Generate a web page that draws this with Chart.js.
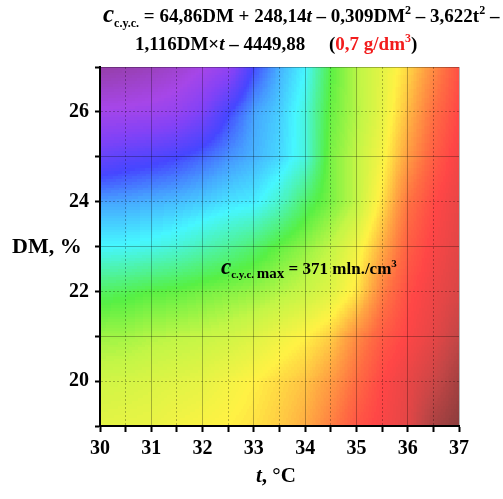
<!DOCTYPE html>
<html>
<head>
<meta charset="utf-8">
<script src="https://cdn.jsdelivr.net/npm/chart.js@4.4.1/dist/chart.umd.min.js"></script>
<style>
  html, body { margin: 0; padding: 0; background: #fff; }
  #wrap { width: 503px; height: 499px; position: relative; }
</style>
</head>
<body>
<div id="wrap"><canvas id="surfaceChart"></canvas></div>
<script>
// grid of the map
const tValues = [30, 30.5, 31, 31.5, 32, 32.5, 33, 33.5, 34, 34.5, 35, 35.5, 36, 36.5, 37];
const dmValues = [19, 20, 21, 22, 23, 24, 25, 26, 27];
// c c.y.c., mln./cm3 - one row per DM value (bottom row first), one value per t
const cRows = [
    [230, 229, 228, 226, 224, 222, 219, 214, 208, 197, 186, 180, 174, 157, 148],
    [236, 235, 233, 231, 229, 226, 222, 217, 212, 204, 193, 182, 176, 167, 155],
    [246, 245, 243, 241, 239, 236, 232, 227, 222, 214, 200, 188, 181, 175, 164],
    [262, 260, 258, 256, 253, 250, 247, 243, 238, 231, 219, 197, 184, 178, 171],
    [285, 284, 282, 279, 275, 270, 264, 256, 248, 240, 227, 208, 189, 180, 174],
    [300, 299, 297, 295, 292, 289, 287, 277, 263, 252, 240, 218, 195, 183, 176],
    [325, 322, 319, 315, 309, 303, 297, 291, 280, 252, 240, 225, 204, 189, 179],
    [348, 347, 345, 341, 332, 315, 300, 292, 280, 255, 243, 229, 211, 194, 182],
    [371, 368, 364, 358, 350, 340, 314, 297, 285, 258, 242, 230, 216, 200, 185]
];
const tTicks = [30, 31, 32, 33, 34, 35, 36, 37];
const dmTicks = [20, 22, 24, 26];

// rainbow palette (low = dark red, high = purple)
const levelStops = [148, 165, 182, 194, 207, 222, 240, 258, 285, 300, 315, 335, 350, 371];
const levelColors = ['#8a3c3c', '#c44646', '#ff4646', '#ff7042', '#ffa842', '#fff244', '#c2f646',
    '#56f044', '#46f6ff', '#46a2ff', '#4646ff', '#8442f6', '#a646e8', '#953fa8'];
const V_MIN = 140, V_MAX = 380;

const SERIF = '"Liberation Serif", "Times New Roman", serif';
const b = (s) => 'bold ' + s + 'px ' + SERIF;
const bi = (s) => 'italic bold ' + s + 'px ' + SERIF;

function hexToRgb(h) {
    return [parseInt(h.substr(1, 2), 16), parseInt(h.substr(3, 2), 16), parseInt(h.substr(5, 2), 16)];
}

function colorFor(v) {
    if (v <= levelStops[0]) return hexToRgb(levelColors[0]);
    for (let i = 1; i < levelStops.length; i++) {
        if (v <= levelStops[i]) {
            const f = (v - levelStops[i - 1]) / (levelStops[i] - levelStops[i - 1]);
            const a = hexToRgb(levelColors[i - 1]);
            const c = hexToRgb(levelColors[i]);
            return [0, 1, 2].map(k => Math.round(a[k] + (c[k] - a[k]) * f));
        }
    }
    return hexToRgb(levelColors[levelColors.length - 1]);
}

// lookup table: grey level -> palette colour
const lut = [];
for (let g = 0; g < 256; g++) lut.push(colorFor(V_MIN + g / 255 * (V_MAX - V_MIN)));

// values stored as grey levels, one pixel per grid node
function buildValueImage() {
    const img = document.createElement('canvas');
    img.width = tValues.length;
    img.height = dmValues.length;
    const ictx = img.getContext('2d');
    const data = ictx.createImageData(img.width, img.height);
    for (let r = 0; r < dmValues.length; r++) {
        const py = dmValues.length - 1 - r;
        for (let c = 0; c < tValues.length; c++) {
            const g = Math.round((cRows[r][c] - V_MIN) / (V_MAX - V_MIN) * 255);
            const o = (py * img.width + c) * 4;
            data.data[o] = data.data[o + 1] = data.data[o + 2] = g;
            data.data[o + 3] = 255;
        }
    }
    ictx.putImageData(data, 0, 0);
    return img;
}

const valueImage = buildValueImage();
let mapCache = null;

const surfacePlugin = {
    id: 'surfaceMap',
    beforeDraw(chart) {
        const {ctx, chartArea, scales} = chart;
        const w = Math.round(chartArea.right - chartArea.left);
        const h = Math.round(chartArea.bottom - chartArea.top);
        if (!mapCache || mapCache.width !== w || mapCache.height !== h) {
            const dt = (tValues[1] - tValues[0]) / 2;
            const dd = (dmValues[1] - dmValues[0]) / 2;
            const x0 = scales.x.getPixelForValue(tValues[0] - dt) - chartArea.left;
            const x1 = scales.x.getPixelForValue(tValues[tValues.length - 1] + dt) - chartArea.left;
            const y0 = scales.y.getPixelForValue(dmValues[dmValues.length - 1] + dd) - chartArea.top;
            const y1 = scales.y.getPixelForValue(dmValues[0] - dd) - chartArea.top;
            mapCache = document.createElement('canvas');
            mapCache.width = w;
            mapCache.height = h;
            const mctx = mapCache.getContext('2d', { willReadFrequently: true });
            mctx.imageSmoothingEnabled = true;
            mctx.imageSmoothingQuality = 'low';
            mctx.drawImage(valueImage, x0, y0, x1 - x0, y1 - y0);
            const px = mctx.getImageData(0, 0, w, h);
            for (let i = 0; i < px.data.length; i += 4) {
                const rgb = lut[px.data[i]];
                px.data[i] = rgb[0];
                px.data[i + 1] = rgb[1];
                px.data[i + 2] = rgb[2];
                px.data[i + 3] = 255;
            }
            mctx.putImageData(px, 0, 0);
        }
        ctx.drawImage(mapCache, chartArea.left, chartArea.top);
    }
};

function drawRich(ctx, x, y, parts) {
    for (const p of parts) {
        ctx.font = p.f;
        ctx.fillStyle = p.color || '#000';
        ctx.fillText(p.t, x, y + (p.dy || 0));
        x += ctx.measureText(p.t).width;
    }
    return x;
}

const textPlugin = {
    id: 'texts',
    afterDraw(chart) {
        const ctx = chart.ctx;
        ctx.save();
        ctx.textBaseline = 'alphabetic';
        ctx.textAlign = 'left';
        const red = '#f21c1c';
        drawRich(ctx, 103, 22, [
            {t: 'c', f: bi(25)}, {t: 'c.y.c.', f: b(12), dy: 5},
            {t: ' = 64,86DM + 248,14', f: b(19)}, {t: 't', f: bi(19)},
            {t: ' – 0,309DM', f: b(19)}, {t: '2', f: b(12), dy: -8},
            {t: ' – 3,622t', f: b(19)}, {t: '2', f: b(12), dy: -8},
            {t: ' –', f: b(19)}
        ]);
        drawRich(ctx, 135, 50, [
            {t: '1,116DM×', f: b(19)}, {t: 't', f: bi(19)},
            {t: ' – 4449,88     (', f: b(19)},
            {t: '0,7 g/dm', f: b(19), color: red}, {t: '3', f: b(12), dy: -8, color: red},
            {t: ')', f: b(19)}
        ]);
        // annotation inside the map
        drawRich(ctx, 221, 274, [
            {t: 'c', f: bi(23)}, {t: 'c.y.c. ', f: b(11), dy: 4}, {t: 'max', f: b(15), dy: 4},
            {t: ' = 371 mln./cm', f: b(17)}, {t: '3', f: b(11), dy: -7}
        ]);
        // axis titles
        drawRich(ctx, 12, 253, [{t: 'DM, %', f: b(22)}]);
        drawRich(ctx, 256, 482, [{t: 't', f: bi(21)}, {t: ', °C', f: b(21)}]);
        ctx.restore();
    }
};

const isInt = (v) => Math.abs(v - Math.round(v)) < 1e-6;

new Chart(document.getElementById('surfaceChart'), {
    type: 'scatter',
    data: { datasets: [{ label: 'c', data: [] }] },
    options: {
        responsive: true,
        maintainAspectRatio: false,
        animation: false,
        layout: { padding: { top: 67, right: 44, left: 0, bottom: 0 } },
        plugins: { legend: { display: false }, tooltip: { enabled: false } },
        scales: {
            x: {
                type: 'linear',
                min: 30,
                max: 37,
                afterFit: (s) => { s.height = 73; },
                ticks: {
                    stepSize: 0.5,
                    autoSkip: false,
                    maxRotation: 0,
                    padding: 5,
                    color: '#000',
                    font: { family: SERIF, size: 20, weight: 'bold' },
                    callback: (v) => tTicks.includes(v) ? String(v) : ''
                },
                grid: {
                    color: 'rgba(0,0,0,0.28)',
                    lineWidth: 1,
                    tickColor: '#000',
                    tickWidth: 2,
                    tickLength: 6
                },
                border: {
                    color: '#000',
                    width: 2,
                    dash: (c) => (c.tick && !isInt(c.tick.value)) ? [2, 2] : []
                }
            },
            y: {
                type: 'linear',
                min: 19,
                max: 27,
                afterFit: (s) => { s.width = 100; },
                ticks: {
                    stepSize: 1,
                    autoSkip: false,
                    padding: 6,
                    color: '#000',
                    font: { family: SERIF, size: 20, weight: 'bold' },
                    callback: (v) => dmTicks.includes(v) ? String(v) : ''
                },
                grid: {
                    color: 'rgba(0,0,0,0.28)',
                    lineWidth: 1,
                    tickColor: '#000',
                    tickWidth: 2,
                    tickLength: 5
                },
                border: {
                    color: '#000',
                    width: 2,
                    dash: (c) => (c.tick && c.tick.value % 2 === 0) ? [2, 2] : []
                }
            }
        }
    },
    plugins: [surfacePlugin, textPlugin]
});
</script>
</body>
</html>
